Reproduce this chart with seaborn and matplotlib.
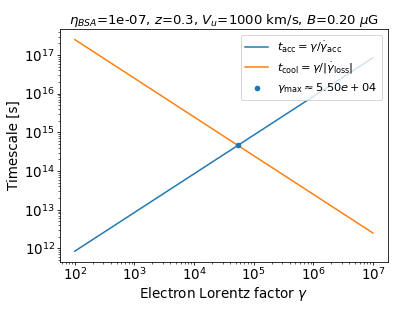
import numpy as np
import pandas as pd
import matplotlib
matplotlib.use("Agg")
import matplotlib.pyplot as plt
import seaborn as sns

# Data
gamma = [1e2, 1e3, 1e4, 1e5, 1e6, 1e7]
t_acc = [8.5e11, 8.5e12, 8.5e13, 8.5e14, 8.5e15, 8.5e16]
t_cool = [2.5e17, 2.5e16, 2.5e15, 2.5e14, 2.5e13, 2.5e12]
gamma_max = 5.5e4
t_max = 4.6e14

df = pd.DataFrame({"gamma": gamma, "t_acc": t_acc, "t_cool": t_cool})

fig = plt.figure(figsize=(397 / 72, 309 / 72), dpi=72)
ax = fig.add_axes([0.151, 0.153, 0.826, 0.753])

sns.lineplot(data=df, x="gamma", y="t_acc", ax=ax, color="C0",
             label=r"$t_{\rm acc} = \gamma/\dot{\gamma}_{\rm acc}$")
sns.lineplot(data=df, x="gamma", y="t_cool", ax=ax, color="C1",
             label=r"$t_{\rm cool} = \gamma/|\dot{\gamma}_{\rm loss}|$")
sns.scatterplot(x=[gamma_max], y=[t_max], ax=ax, color="C0", s=32, linewidth=0,
                label=r"$\gamma_{\max} \approx 5.50e+04$", zorder=3)

ax.set_xscale("log")
ax.set_yscale("log")
ax.set_xlabel(r"Electron Lorentz factor $\gamma$", fontsize=13.5, labelpad=2)
ax.set_ylabel("Timescale [s]", fontsize=13.5, labelpad=3)
ax.set_title(r"$\eta_{BSA}$=1e-07, $z$=0.3, $V_u$=1000 km/s, $B$=0.20 $\mu$G", fontsize=13.3, pad=4)
ax.tick_params(labelsize=13.5, length=3, pad=2)
ax.tick_params(which="minor", length=1.8)
ax.legend(loc="upper right", fontsize=11.4)

fig.savefig("out.png", dpi=72)
